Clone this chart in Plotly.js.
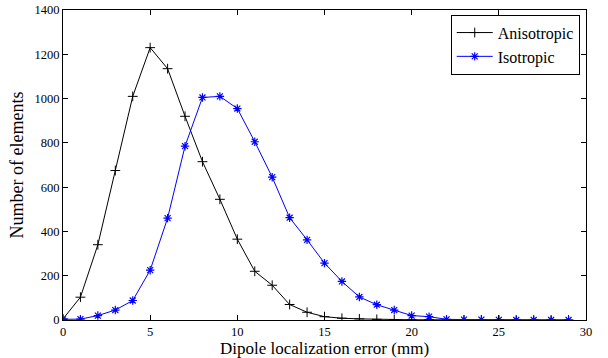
<!DOCTYPE html>
<html>
<head>
<meta charset="utf-8">
<script src="https://cdn.plot.ly/plotly-3.0.1.min.js"></script>
<style>html,body{margin:0;padding:0;background:#fff;}#chart{width:608px;height:358px;}</style>
</head>
<body>
<div id="chart"></div>
<script>
const errorMm = [0,1,2,3,4,5,6,7,8,9,10,11,12,13,14,15,16,17,18,19,20,21,22,23,24,25,26,27,28,29];
const anisotropic = [5,103,340,675,1010,1230,1135,920,715,545,365,220,157,70,35,15,8,5,3,2,1,1,0,0,0,0,0,0,0,0];
const isotropic = [3,4,20,45,88,225,460,785,1005,1010,955,805,645,462,362,257,174,104,69,45,20,15,3,2,2,1,0,0,0,0];
const seriesNames = ["Anisotropic","Isotropic"];
const xTicks = [0,5,10,15,20,25,30];
const yTicks = [0,200,400,600,800,1000,1200,1400];

const font = {family: "Liberation Serif", color: "#000"};

const traces = [
  {x: errorMm, y: anisotropic, name: seriesNames[0], mode: "lines+markers", type: "scatter",
   line: {color: "#000", width: 1},
   marker: {symbol: "cross-thin-open", size: 7, color: "#000", line: {color: "#000", width: 1}}},
  {x: errorMm, y: isotropic, name: seriesNames[1], mode: "lines+markers", type: "scatter",
   line: {color: "#0000ff", width: 1},
   marker: {symbol: "asterisk-open", size: 7, color: "#0000ff", line: {color: "#0000ff", width: 1.2}}}
];

const axisCommon = {
  showgrid: false, zeroline: false, showline: true, linecolor: "#000", linewidth: 1,
  mirror: "ticks", ticks: "inside", ticklen: 5, tickcolor: "#000", tickwidth: 1,
  tickfont: Object.assign({size: 12.5}, font)
};

const layout = {
  width: 608, height: 358,
  margin: {l: 63, r: 22, t: 10, b: 38},
  paper_bgcolor: "#fff", plot_bgcolor: "#fff",
  font: font,
  showlegend: true,
  legend: {x: 0.988, y: 0.985, xanchor: "right", yanchor: "top",
           bordercolor: "#000", borderwidth: 1, bgcolor: "#fff",
           font: Object.assign({size: 16}, font), tracegroupgap: 0, itemwidth: 36},
  xaxis: Object.assign({}, axisCommon, {range: [0, 30], tickvals: xTicks, ticktext: xTicks.map(String),
    title: {text: "Dipole localization error (mm)", font: Object.assign({size: 17}, font), standoff: 4}}),
  yaxis: Object.assign({}, axisCommon, {range: [0, 1400], tickvals: yTicks, ticktext: yTicks.map(String),
    title: {text: "Number of elements", font: Object.assign({size: 18}, font), standoff: 6}})
};

Plotly.newPlot("chart", traces, layout, {displayModeBar: false, staticPlot: true});
</script>
</body>
</html>
